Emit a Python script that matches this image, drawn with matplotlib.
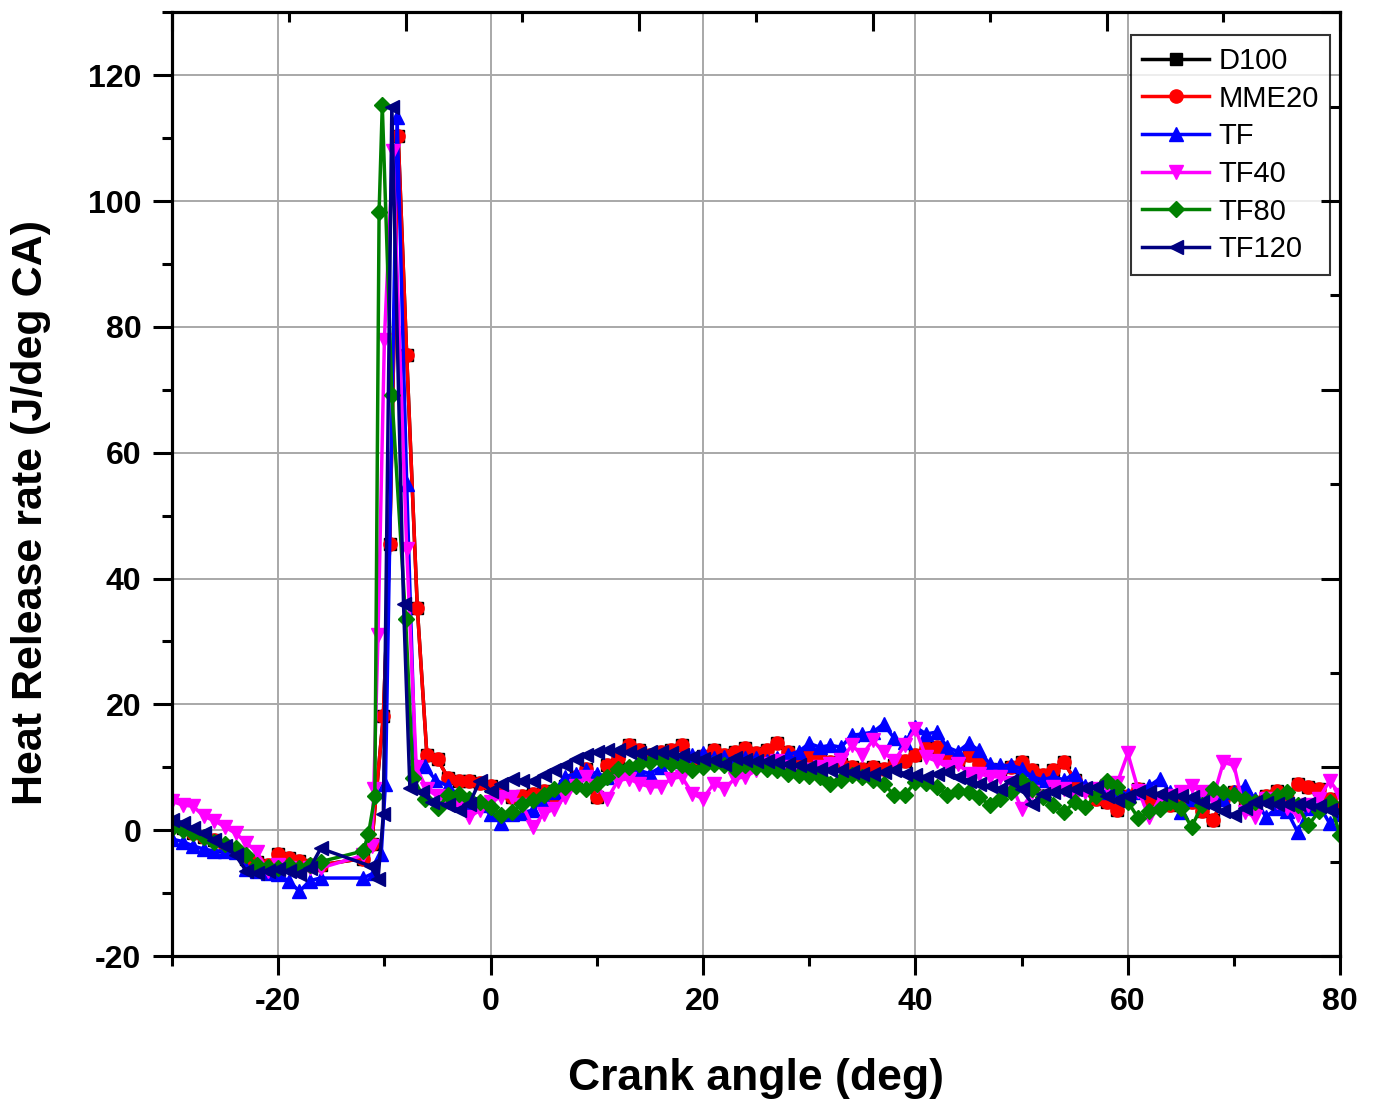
import numpy as np
import matplotlib.pyplot as plt
from matplotlib.ticker import MultipleLocator

nan = np.nan

# Crank angle grids (deg) for the parts before and after the combustion peak
angle_pre = np.arange(-30, -12)
angle_post = np.arange(-4, 81)

# MME20 (red)
mme20_pre = [1.0, 0.3, -0.5, -1.0, -1.5, -2.5, -3.5, -4.5, -5.0, -5.5,
             -3.8, -4.4, -4.9, -5.5, -5.5, nan, nan, nan]
mme20_peak_x = [-12, -11.2, -10.1, -9.5, -8.7, -7.9, -6.9, -6.0, -5.0]
mme20_peak_y = [-4.5, -2.2, 18.2, 45.5, 110.3, 75.5, 35.3, 12.0, 11.3]
mme20_post = [8.3, 7.9, 7.9, 7.5, 7.1, 6.0, 5.3, 5.5, 5.8, 6.2,
              5.3, 7.0, 8.5, 9.8, 5.3, 10.3, 11.5, 13.5, 12.7, 12.0,
              12.5, 12.8, 13.5, 11.4, 11.8, 12.7, 12.0, 12.5, 13.0, 12.2,
              12.7, 13.8, 12.4, 11.5, 11.9, 11.4, 10.8, 10.5, 10.0, 9.8,
              10.1, 9.8, 10.3, 11.0, 12.0, 13.0, 13.2, 11.5, 11.0, 11.9,
              10.5, 9.8, 9.5, 10.0, 10.8, 9.5, 8.8, 9.5, 10.8, 8.0,
              6.5, 5.0, 4.5, 3.2, 5.5, 6.5, 5.0, 4.5, 4.0, 5.5,
              4.5, 3.0, 1.6, 5.0, 6.0, 5.0, 4.5, 5.5, 6.3, 5.0,
              7.4, 6.9, 6.5, 5.0, 3.5]

# D100 (black) lies underneath MME20 in the figure
d100_pre = mme20_pre
d100_peak_x = mme20_peak_x
d100_peak_y = mme20_peak_y
d100_post = mme20_post

# TF (blue)
tf_pre = [-1.4, -1.8, -2.5, -3.0, -3.3, -3.3, -3.5, -6.2, -6.5, -6.8,
          -7.0, -8.1, -9.7, -8.0, -7.6, nan, nan, nan]
tf_peak_x = [-12, -11, -10.3, -9.9, -8.8, -7.9, -7.1, -6.2, -5.2]
tf_peak_y = [-7.6, -6.8, -3.8, 7.4, 113.3, 55.0, 10.6, 10.2, 8.0]
tf_post = [7.0, 5.5, 4.5, 4.0, 2.5, 1.1, 2.5, 2.8, 3.2, 5.0,
           6.0, 8.5, 9.0, 9.5, 9.0, 8.5, 9.5, 10.0, 9.5, 9.0,
           10.0, 11.0, 11.5, 12.0, 12.2, 11.5, 11.6, 11.0, 11.5, 11.5,
           11.0, 11.5, 12.0, 12.5, 13.8, 13.2, 13.5, 13.2, 15.1, 15.3,
           15.6, 16.9, 14.6, 14.0, 16.4, 15.3, 15.6, 13.2, 12.5, 13.8,
           12.7, 10.5, 10.3, 10.3, 9.8, 8.5, 8.0, 8.5, 8.0, 9.0,
           7.0, 6.5, 6.0, 6.5, 5.6, 6.0, 7.0, 8.2, 6.0, 2.9,
           5.0, 5.5, 6.0, 5.0, 6.0, 7.1, 5.0, 2.1, 3.5, 3.0,
           -0.3, 3.5, 4.0, 1.1, 2.5]

# TF40 (magenta)
tf40_pre = [4.6, 4.0, 3.8, 2.2, 1.5, 0.5, -0.5, -2.0, -3.5, -6.5,
            -5.5, -6.0, -6.5, -6.0, -6.0, nan, nan, nan]
tf40_peak_x = [-12, -11.2, -11.0, -10.6, -10.0, -9.2, -7.9, -7.0, -6.0, -5.0]
tf40_peak_y = [-4.0, -2.5, 6.5, 31.0, 78.0, 108.0, 44.7, 10.0, 6.5, 5.4]
tf40_post = [4.5, 4.0, 2.1, 3.2, 4.5, 5.3, 5.3, 4.0, 0.5, 2.6,
             3.4, 5.3, 7.0, 8.5, 7.0, 5.0, 7.9, 8.2, 7.4, 6.9,
             6.9, 8.2, 8.5, 5.8, 5.0, 7.4, 6.6, 8.2, 8.5, 9.5,
             10.5, 11.0, 10.0, 9.0, 9.5, 10.0, 10.5, 11.1, 13.5, 12.0,
             14.3, 12.4, 11.0, 13.5, 16.1, 11.6, 11.0, 10.0, 10.6, 9.0,
             9.0, 8.5, 8.5, 7.5, 3.4, 6.0, 5.5, 6.9, 6.5, 5.5,
             6.0, 6.5, 7.0, 7.5, 12.2, 6.3, 2.1, 5.0, 5.5, 6.0,
             7.1, 6.0, 5.0, 10.8, 10.3, 2.9, 2.1, 5.0, 4.5, 3.5,
             2.4, 4.0, 5.0, 7.9, 5.6]

# TF80 (green)
tf80_pre = [0.3, 0.0, -0.5, -1.0, -1.8, -2.2, -2.8, -4.0, -5.5, -5.8,
            -6.0, -5.5, -6.0, -5.5, -5.0, nan, nan, nan]
tf80_peak_x = [-12, -11.5, -10.9, -10.5, -10.2, -9.3, -8.0, -7.3, -6.2, -5.0]
tf80_peak_y = [-3.3, -0.6, 5.4, 98.3, 115.2, 69.2, 33.5, 8.3, 4.9, 3.5]
tf80_post = [5.6, 5.8, 5.0, 4.5, 3.7, 2.4, 2.9, 4.2, 4.8, 5.6,
             6.6, 6.9, 7.1, 6.6, 7.4, 8.5, 9.8, 10.1, 10.5, 10.8,
             11.1, 10.6, 10.3, 9.5, 10.1, 10.6, 10.3, 9.8, 10.3, 10.1,
             9.8, 9.5, 9.0, 8.7, 8.6, 8.5, 7.4, 8.0, 8.7, 8.5,
             8.0, 7.4, 5.6, 5.6, 7.7, 7.5, 6.9, 5.6, 6.3, 6.0,
             5.3, 4.0, 5.0, 6.1, 7.9, 6.6, 5.3, 4.0, 2.9, 4.5,
             3.7, 5.5, 7.9, 6.9, 4.5, 1.9, 3.0, 3.4, 4.5, 3.5,
             0.5, 4.0, 6.6, 6.0, 5.6, 5.0, 4.5, 5.0, 5.5, 6.1,
             4.0, 0.8, 3.0, 4.5, -0.8]

# TF120 (navy)
tf120_pre = [1.7, 1.2, 0.3, -0.5, -1.5, -2.5, -4.0, -6.5, -6.8, -6.5,
             -6.2, -6.5, -7.0, -6.0, -2.9, nan, nan, nan]
tf120_peak_x = [-11.3, -10.6, -10.1, -9.3, -8.2, -7.6, -6.5, -5.5]
tf120_peak_y = [-5.7, -7.8, 2.5, 115.0, 36.0, 6.7, 6.0, 4.5]
tf120_post = [4.0, 3.2, 4.2, 7.9, 6.3, 7.4, 8.2, 7.9, 7.9, 8.7,
              9.5, 10.3, 11.4, 11.9, 12.4, 12.7, 12.7, 12.4, 12.2, 12.4,
              12.4, 12.2, 11.9, 11.6, 11.4, 11.1, 10.6, 11.5, 11.1, 11.0,
              11.0, 10.8, 10.5, 10.3, 10.0, 9.8, 9.6, 9.5, 9.2, 9.0,
              9.0, 9.3, 9.5, 9.0, 8.7, 8.5, 9.0, 9.3, 8.5, 7.9,
              7.4, 7.0, 6.6, 7.9, 6.5, 4.2, 5.8, 6.0, 6.3, 6.5,
              6.7, 6.9, 5.5, 4.8, 5.5, 6.1, 6.0, 5.8, 5.6, 5.5,
              5.3, 4.5, 3.8, 3.0, 2.4, 3.5, 4.5, 4.4, 4.2, 4.2,
              4.2, 4.2, 3.8, 3.2, 3.0]

series = [
    ("D100", d100_pre, d100_peak_x, d100_peak_y, d100_post, "black", "s", 8.5),
    ("MME20", mme20_pre, mme20_peak_x, mme20_peak_y, mme20_post, "#ff0000", "o", 9.5),
    ("TF", tf_pre, tf_peak_x, tf_peak_y, tf_post, "#0000ff", "^", 9.5),
    ("TF40", tf40_pre, tf40_peak_x, tf40_peak_y, tf40_post, "#ff00ff", "v", 9.5),
    ("TF80", tf80_pre, tf80_peak_x, tf80_peak_y, tf80_post, "#008000", "D", 8),
    ("TF120", tf120_pre, tf120_peak_x, tf120_peak_y, tf120_post, "#000080", "<", 9.5),
]

plt.rcParams['font.family'] = ['Liberation Sans', 'DejaVu Sans']
plt.rcParams['axes.unicode_minus'] = False

fig = plt.figure(figsize=(13.76, 11.05), dpi=100)
ax = fig.add_axes([0.125, 0.1348, 0.849, 0.854])

for name, pre, pk_x, pk_y, post, color, marker, ms in series:
    x = np.concatenate([angle_pre, pk_x, angle_post]).astype(float)
    y = np.concatenate([pre, pk_y, post]).astype(float)
    keep = ~np.isnan(y)
    ax.plot(x[keep], y[keep], color=color, marker=marker, markersize=ms,
            linewidth=2.5, label=name)

ax.set_xlim(-30, 80)
ax.set_ylim(-20, 130)
ax.xaxis.set_major_locator(MultipleLocator(20))
ax.xaxis.set_minor_locator(MultipleLocator(10))
ax.yaxis.set_major_locator(MultipleLocator(20))
ax.yaxis.set_minor_locator(MultipleLocator(10))
ax.grid(True, which='major', color='#a8a8a8', linewidth=1.4)
ax.set_axisbelow(True)

ax.tick_params(which='major', direction='out', length=14, width=2.2,
               labelsize=23, pad=8)
ax.tick_params(which='minor', direction='out', length=7, width=2.2)
for lab in ax.get_xticklabels() + ax.get_yticklabels():
    lab.set_fontweight('bold')
for sp in ax.spines.values():
    sp.set_linewidth(2.2)

ax.set_xlabel("Crank angle (deg)", fontsize=32, fontweight='bold', labelpad=30)
ax.set_ylabel("Heat Release rate (J/deg CA)", fontsize=31, fontweight='bold')
ax.yaxis.set_label_coords(-0.104, 0.47)

# Mirror axes on top and right (Origin style, inward ticks, no labels)
top = ax.twiny()
top.set_xlim(0, 100)
top.xaxis.set_major_locator(MultipleLocator(20))
top.xaxis.set_minor_locator(MultipleLocator(10))
top.tick_params(which='major', direction='in', length=14, width=2.2, labeltop=False)
top.tick_params(which='minor', direction='in', length=7, width=2.2)
right = ax.twinx()
right.set_ylim(0, 100)
right.yaxis.set_major_locator(MultipleLocator(20))
right.yaxis.set_minor_locator(MultipleLocator(10))
right.tick_params(which='major', direction='in', length=14, width=2.2, labelright=False)
right.tick_params(which='minor', direction='in', length=7, width=2.2)
for a in (top, right):
    for sp in a.spines.values():
        sp.set_linewidth(2.2)

leg = ax.legend(loc='upper right', bbox_to_anchor=(0.9914, 0.9756), borderaxespad=0,
                fontsize=21, frameon=True, fancybox=False, handlelength=2.3,
                labelspacing=0.33, handletextpad=0.3, borderpad=0.4)
leg.get_frame().set_edgecolor('black')
leg.get_frame().set_linewidth(1.5)
leg.set_zorder(10)

fig.savefig("out.png", dpi=100)
